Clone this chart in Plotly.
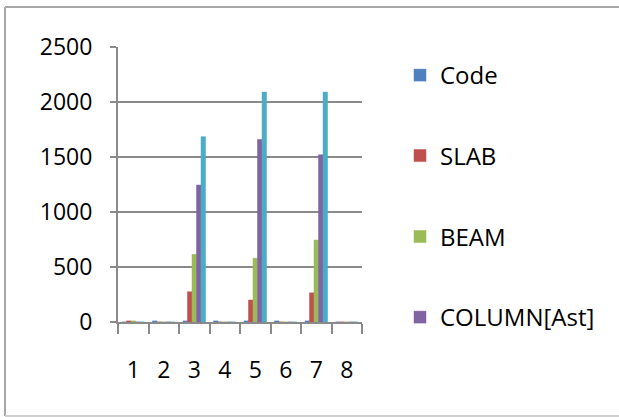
import plotly.graph_objects as go

# Categories and series values
categories = ["1", "2", "3", "4", "5", "6", "7", "8"]
code_vals = [0, 10, 10, 10, 10, 10, 10, 0]
slab_vals = [10, 0, 275, 0, 200, 0, 265, 0]
beam_vals = [10, 0, 615, 0, 580, 0, 745, 0]
column_vals = [0, 0, 1245, 0, 1660, 0, 1520, 0]
series5_vals = [0, 0, 1685, 0, 2090, 0, 2090, 0]
y_ticks = [0, 500, 1000, 1500, 2000, 2500]

series = [
    ("Code", code_vals, "#4F81BD", "legend"),
    ("SLAB", slab_vals, "#C0504D", "legend2"),
    ("BEAM", beam_vals, "#9BBB59", "legend3"),
    ("COLUMN[Ast]", column_vals, "#8064A2", "legend4"),
    ("Series5", series5_vals, "#4BACC6", None),
]

W, H = 619, 417
L, R, T, B = 118, 257, 47, 95
FONT = "Open Sans, Liberation Sans, sans-serif"

fig = go.Figure()
for name, vals, color, leg in series:
    kw = dict(legend=leg) if leg else dict(showlegend=False)
    fig.add_trace(go.Bar(
        x=categories, y=vals, name=name,
        marker=dict(color=color, line=dict(color=color, width=0.5)),
        **kw,
    ))

# one single-item legend per visible series, stacked down the right side
legend_rows = [75.5, 156, 237, 317.5]
legend_common = dict(
    xref="container", yref="container", xanchor="left", yanchor="middle",
    x=400 / W, font=dict(family=FONT, size=24, color="#000000"),
    bgcolor="rgba(0,0,0,0)", borderwidth=0, itemclick=False,
)
legends = {}
for i, py in enumerate(legend_rows):
    key = "legend" if i == 0 else f"legend{i + 1}"
    legends[key] = dict(legend_common, y=1 - py / H)

axis_grey = "#8a8a8a"

# chart frame: left, top and bottom edges as separate lines
pw, ph = W - L - R, H - T - B
fx0, fx1 = (5 - L) / pw, (W - L) / pw
fy_top, fy_bot = (H - B - 7) / ph, (H - B - 416) / ph
frame = [
    (fx0, fy_top, fx1, fy_top, "#a6a6a6"),
    (fx0, fy_top, fx0, fy_bot, "#a6a6a6"),
    (fx0, fy_bot, fx1, fy_bot, "#d0d0d0"),
]
shapes = [
    dict(type="line", xref="paper", yref="paper",
         x0=a, y0=b, x1=c, y1=d, line=dict(color=col, width=2), layer="below")
    for a, b, c, d, col in frame
]

fig.update_layout(
    width=W, height=H,
    margin=dict(l=L, r=R, t=T, b=B, pad=0),
    paper_bgcolor="#ffffff", plot_bgcolor="#ffffff",
    barmode="group", bargap=0.26, bargroupgap=0.0,
    font=dict(family=FONT, size=23, color="#000000"),
    xaxis=dict(
        type="category", range=[-0.5, 7.5],
        showline=True, linecolor=axis_grey, linewidth=2,
        ticks="outside", tickson="boundaries", ticklen=10,
        tickwidth=2, tickcolor=axis_grey,
        showgrid=False, ticklabelstandoff=26,
        tickfont=dict(family=FONT, size=23, color="#000000"),
        fixedrange=True,
    ),
    yaxis=dict(
        range=[0, 2500], tickvals=y_ticks,
        showline=True, linecolor=axis_grey, linewidth=2,
        ticks="outside", ticklen=6, tickwidth=2, tickcolor=axis_grey,
        showgrid=True, gridcolor=axis_grey, gridwidth=2,
        zeroline=False, ticklabelstandoff=13,
        tickfont=dict(family=FONT, size=23, color="#000000"),
        fixedrange=True,
    ),
    shapes=shapes,
    **legends,
)

fig.write_html("out.html")
